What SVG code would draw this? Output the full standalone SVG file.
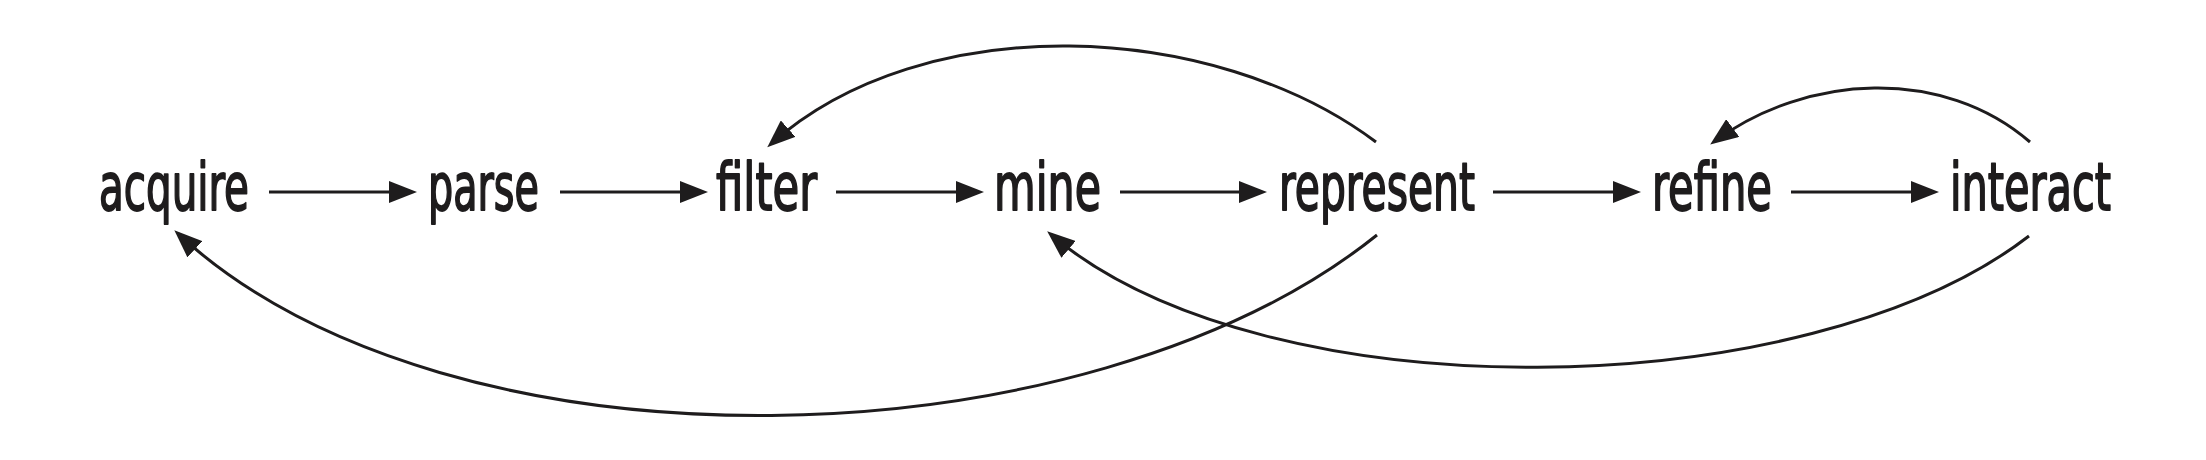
<svg xmlns="http://www.w3.org/2000/svg" width="2206" height="460" viewBox="0 0 2206 460">
<style>
.lbl{font-family:"DejaVu Sans Condensed","DejaVu Sans",sans-serif;font-weight:400;font-size:65px;fill:#1e1c1d;stroke:#1e1c1d;stroke-width:1.8;stroke-linejoin:round}
.c{fill:none;stroke:#1e1c1d;stroke-width:3;marker-end:url(#ah)}
</style>
<defs>
<marker id="ah" markerUnits="userSpaceOnUse" markerWidth="28" markerHeight="22" refX="23" refY="11" orient="auto" viewBox="0 0 28 22">
<path d="M0,0 L28,11 L0,22 z" fill="#1e1c1d"/>
</marker>
</defs>
<rect width="2206" height="460" fill="#fff"/>
<g id="acquire"><text class="lbl" x="99" y="210" textLength="150" lengthAdjust="spacingAndGlyphs">acquire</text></g>
<g id="parse"><text class="lbl" x="428" y="210" textLength="111" lengthAdjust="spacingAndGlyphs">parse</text></g>
<g id="filter"><text class="lbl" x="716" y="210" textLength="101" lengthAdjust="spacingAndGlyphs">filter</text></g>
<g id="mine"><text class="lbl" x="994" y="210" textLength="107" lengthAdjust="spacingAndGlyphs">mine</text></g>
<g id="represent"><text class="lbl" x="1279" y="210" textLength="196" lengthAdjust="spacingAndGlyphs">represent</text></g>
<g id="refine"><text class="lbl" x="1652" y="210" textLength="120" lengthAdjust="spacingAndGlyphs">refine</text></g>
<g id="interact"><text class="lbl" x="1950" y="210" textLength="161" lengthAdjust="spacingAndGlyphs">interact</text></g>
<g id="connectors">
<path class="c" d="M269,192 H412"/>
<path class="c" d="M560,192 H703"/>
<path class="c" d="M836,192 H979"/>
<path class="c" d="M1120,192 H1262"/>
<path class="c" d="M1493,192 H1636"/>
<path class="c" d="M1791,192 H1934"/>
<path class="c" d="M1376,142 C1213,19.6 923,8 771,144"/>
<path class="c" d="M2030,142 C1943.2,66.7 1806.8,73.4 1714.2,141.6"/>
<path class="c" d="M1377,235 C1088.4,466.6 450,484.9 178,233.7"/>
<path class="c" d="M2029,236 C1807.8,406.8 1264.6,415.5 1051,234.6"/>
</g>
</svg>
